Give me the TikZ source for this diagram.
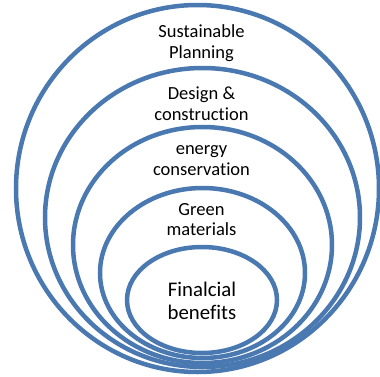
\documentclass[tikz,border=0pt]{standalone}
\usepackage{fontspec}
\setmainfont{Carlito}[Ligatures=NoCommon]
\usetikzlibrary{shapes.geometric}
\definecolor{ringblue}{RGB}{74,120,176}
\tikzset{
  ring/.style={ellipse, draw=ringblue, line width=4.5bp, inner sep=0pt, fill=none},
  label/.style={align=center, inner sep=0pt, text=black, font=\fontsize{18.5bp}{20.8bp}\selectfont},
  biglabel/.style={align=center, inner sep=0pt, text=black, font=\fontsize{20.8bp}{23bp}\selectfont}
}
\begin{document}
\begin{tikzpicture}[x=1bp,y=-1bp]
\useasboundingbox (0,0) rectangle (380,377);
\node[ring, minimum width=363bp, minimum height=367bp] (e1) at (197.5,188.5) {};
\node[ring, minimum width=315bp, minimum height=299bp] (e2) at (202.5,217.5) {};
\node[ring, minimum width=259bp, minimum height=236bp] (e3) at (202.5,245) {};
\node[ring, minimum width=205bp, minimum height=170bp] (e4) at (202.5,273) {};
\node[ring, minimum width=150bp, minimum height=106bp] (e5) at (202,300) {};
\node[label] (t1) at (201.5,43) {Sustainable\\Planning};
\node[label] (t2) at (201.5,103.5) {Design \&\\construction};
\node[label] (t3) at (201.5,160.5) {energy\\conservation};
\node[label] (t4) at (201.5,219.5) {Green\\materials};
\node[biglabel] (t5) at (202,301) {Finalcial\\benefits};
\end{tikzpicture}
\end{document}
